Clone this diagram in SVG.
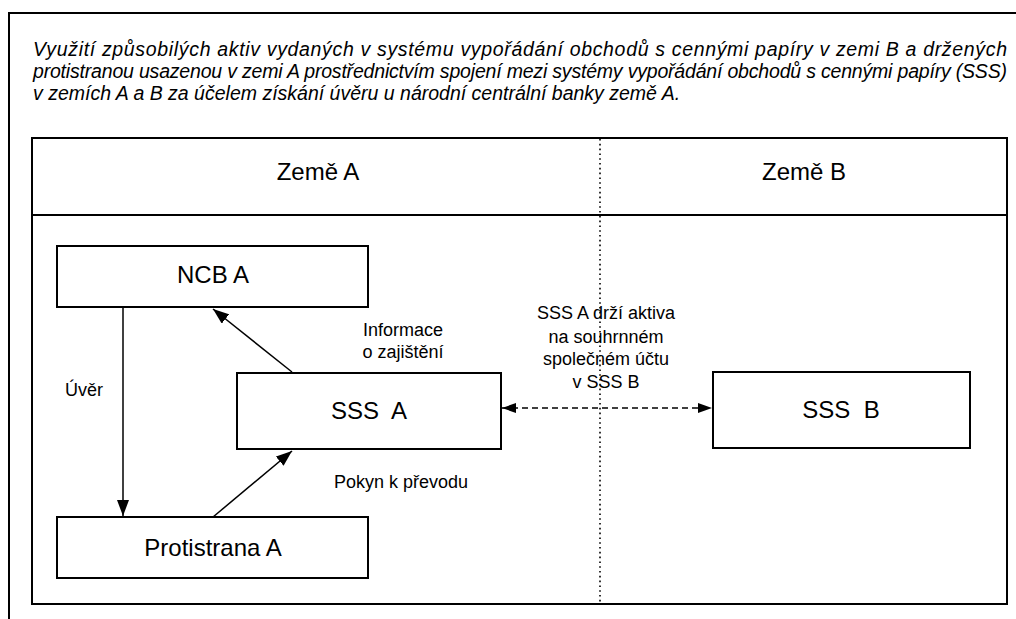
<svg xmlns="http://www.w3.org/2000/svg" width="1016" height="619" viewBox="0 0 1016 619">
<style>
.frame{fill:none;stroke:#000;stroke-width:2}
.box{fill:#fff;stroke:#000;stroke-width:2}
.conn{fill:none;stroke:#000;stroke-width:1.5}
.dash{stroke-dasharray:6 4}
.dot{fill:none;stroke:#000;stroke-width:1.6;stroke-dasharray:1.6 3.2}
text{font-family:"Liberation Sans",Arial,sans-serif;fill:#000}
.title{font-size:19.5px;font-style:italic}
.node{font-size:24px;text-anchor:middle;white-space:pre}
.hdr{font-size:24px;text-anchor:middle}
.lbl{font-size:18px}
.mid{text-anchor:middle}
</style>
<defs>
<marker id="ah" viewBox="0 0 16 12" refX="16" refY="6" markerWidth="16" markerHeight="12" markerUnits="userSpaceOnUse" orient="auto-start-reverse">
<path d="M0,0 L16,6 L0,12 z" fill="#000"/>
</marker>
<marker id="ahs" viewBox="0 0 14 10" refX="14" refY="5" markerWidth="14" markerHeight="10" markerUnits="userSpaceOnUse" orient="auto-start-reverse">
<path d="M0,0 L14,5 L0,10 z" fill="#000"/>
</marker>
</defs>
<path class="frame" d="M9,619 L9,13 L1016,13"/>
<text class="title" x="33" y="56" textLength="974" lengthAdjust="spacing">Využití způsobilých aktiv vydaných v systému vypořádání obchodů s cennými papíry v zemi B a držených</text>
<text class="title" x="33" y="78" textLength="974" lengthAdjust="spacing">protistranou usazenou v zemi A prostřednictvím spojení mezi systémy vypořádání obchodů s cennými papíry (SSS)</text>
<text class="title" x="33" y="100">v zemích A a B za účelem získání úvěru u národní centrální banky země A.</text>
<rect class="frame" x="32" y="138" width="975" height="466"/>
<line class="frame" x1="32" y1="215" x2="1007" y2="215"/>
<line class="dot" x1="600" y1="139" x2="600" y2="603"/>
<text class="hdr" x="318" y="180">Země A</text>
<text class="hdr" x="804" y="180">Země B</text>
<g id="connectors">
<line class="conn" x1="123" y1="307" x2="123" y2="516" marker-end="url(#ah)"/>
<line class="conn" x1="292" y1="372" x2="213" y2="309" marker-end="url(#ah)"/>
<line class="conn" x1="213" y1="517" x2="292" y2="451" marker-end="url(#ah)"/>
<line class="conn dash" x1="502" y1="408" x2="712" y2="408" marker-start="url(#ahs)" marker-end="url(#ahs)"/>
<text class="lbl mid" x="403" y="336">Informace</text>
<text class="lbl mid" x="403" y="358">o zajištění</text>
<text class="lbl" x="65" y="396">Úvěr</text>
<text class="lbl" x="334" y="488">Pokyn k převodu</text>
<text class="lbl mid" x="606" y="319">SSS A drží aktiva</text>
<text class="lbl mid" x="606" y="343">na souhrnném</text>
<text class="lbl mid" x="606" y="365">společném účtu</text>
<text class="lbl mid" x="606" y="388">v SSS B</text>
</g>
<g id="ncb-a">
<rect class="box" x="57" y="246" width="311" height="61"/>
<text class="node" x="213" y="283">NCB A</text>
</g>
<g id="sss-a">
<rect class="box" x="237" y="373" width="264" height="76"/>
<text class="node" x="369" y="419">SSS  A</text>
</g>
<g id="protistrana-a">
<rect class="box" x="57" y="517" width="311" height="61"/>
<text class="node" x="213" y="556">Protistrana A</text>
</g>
<g id="sss-b">
<rect class="box" x="713" y="372" width="257" height="76"/>
<text class="node" x="841" y="418">SSS  B</text>
</g>
</svg>
